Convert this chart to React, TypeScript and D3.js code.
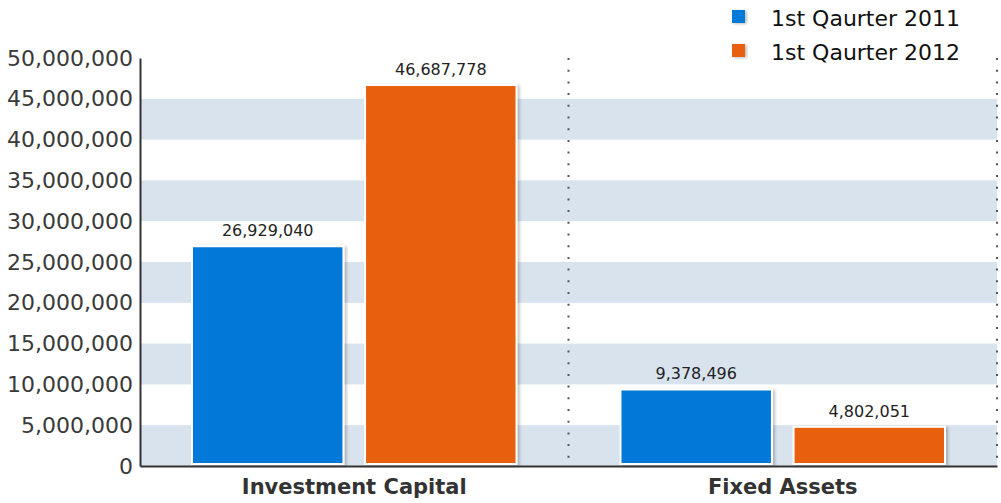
import * as d3 from "d3";
import { useEffect, useRef } from "react";

const categories = ["Investment Capital", "Fixed Assets"];
const seriesNames = ["1st Qaurter 2011", "1st Qaurter 2012"];
const q1_2011 = [26929040, 9378496];
const q1_2012 = [46687778, 4802051];
const yTicks = [0, 5000000, 10000000, 15000000, 20000000, 25000000, 30000000, 35000000, 40000000, 45000000, 50000000];
const colors = ["#0079d9", "#e85e0f"];

export default function App() {
  const ref = useRef<SVGSVGElement>(null);

  useEffect(() => {
    if (!ref.current) return;
    const width = 1001;
    const height = 503;
    const svg = d3.select(ref.current);
    svg.selectAll("*").remove();

    const margin = { top: 58, right: 4, bottom: 37, left: 140 };
    const innerWidth = width - margin.left - margin.right;
    const innerHeight = height - margin.top - margin.bottom;
    const font = "'DejaVu Sans', Arial, sans-serif";

    const defs = svg.append("defs");
    const filter = defs
      .append("filter")
      .attr("id", "shadow")
      .attr("x", "-10%")
      .attr("y", "-10%")
      .attr("width", "130%")
      .attr("height", "130%");
    filter
      .append("feDropShadow")
      .attr("dx", 2)
      .attr("dy", 1)
      .attr("stdDeviation", 1.5)
      .attr("flood-color", "#000")
      .attr("flood-opacity", 0.25);

    const g = svg
      .append("g")
      .attr("transform", `translate(${margin.left},${margin.top})`);

    const x0 = d3.scaleBand().domain(categories).range([0, innerWidth]).paddingInner(0).paddingOuter(0);
    const x1 = d3
      .scaleBand()
      .domain(seriesNames)
      .range([52, x0.bandwidth() - 52])
      .paddingInner(0.125);
    const y = d3.scaleLinear().domain([0, 50000000]).range([innerHeight, 0]);

    // Alternating bands
    for (let i = 0; i < yTicks.length - 1; i += 2) {
      g.append("rect")
        .attr("x", 0)
        .attr("width", innerWidth)
        .attr("y", y(yTicks[i + 1]))
        .attr("height", y(yTicks[i]) - y(yTicks[i + 1]))
        .attr("fill", "#d8e3ee");
    }

    // Dotted separators
    [x0.bandwidth(), innerWidth].forEach((xx) => {
      g.append("line")
        .attr("x1", xx)
        .attr("x2", xx)
        .attr("y1", 0)
        .attr("y2", innerHeight)
        .attr("stroke", "#555")
        .attr("stroke-width", 2)
        .attr("stroke-dasharray", "2,9.7");
    });

    const rows = categories.map((c, i) => ({
      category: c,
      values: [q1_2011[i], q1_2012[i]],
    }));

    const groups = g
      .selectAll(".grp")
      .data(rows)
      .enter()
      .append("g")
      .attr("transform", (d) => `translate(${x0(d.category)},0)`);

    const bars = groups
      .selectAll(".bar")
      .data((d) => d.values.map((v, i) => ({ name: seriesNames[i], value: v, i })))
      .enter();

    bars
      .append("rect")
      .attr("x", (d) => x1(d.name)!)
      .attr("y", (d) => y(d.value))
      .attr("width", x1.bandwidth())
      .attr("height", (d) => innerHeight - y(d.value) - 2)
      .attr("fill", (d) => colors[d.i])
      .attr("stroke", "#fff")
      .attr("stroke-width", 2)
      .attr("filter", "url(#shadow)");

    bars
      .append("text")
      .attr("x", (d) => x1(d.name)! + x1.bandwidth() / 2)
      .attr("y", (d) => y(d.value) - 10)
      .attr("text-anchor", "middle")
      .attr("font-family", font)
      .attr("font-size", 16)
      .attr("fill", "#222")
      .text((d) => d3.format(",")(d.value));

    // Y axis
    const yAxis = g
      .append("g")
      .call(d3.axisLeft(y).tickValues(yTicks).tickSize(0).tickPadding(7).tickFormat((d) => d3.format(",")(d as number)));
    yAxis.select(".domain").attr("stroke", "#333").attr("stroke-width", 2);
    yAxis
      .selectAll("text")
      .attr("font-family", font)
      .attr("font-size", 22)
      .attr("fill", "#3a3a3a");

    // X axis
    const xAxis = g
      .append("g")
      .attr("transform", `translate(0,${innerHeight})`)
      .call(d3.axisBottom(x0).tickSize(0).tickPadding(13));
    xAxis.select(".domain").attr("stroke", "#333").attr("stroke-width", 2);
    xAxis
      .selectAll("text")
      .attr("font-family", font)
      .attr("font-size", 21)
      .attr("font-weight", "bold")
      .attr("fill", "#333");

    // Legend
    const legend = svg.append("g").attr("transform", "translate(732,10)");
    seriesNames.forEach((name, i) => {
      const row = legend.append("g").attr("transform", `translate(0,${i * 34})`);
      row
        .append("rect")
        .attr("width", 13)
        .attr("height", 13)
        .attr("fill", colors[i])
        .attr("filter", "url(#shadow)");
      row
        .append("text")
        .attr("x", 39)
        .attr("y", 16)
        .attr("font-family", font)
        .attr("font-size", 22)
        .attr("fill", "#111")
        .text(name);
    });
  }, []);

  return (
    <svg
      ref={ref}
      width={1001}
      height={503}
      style={{ position: "absolute", left: 0, top: 0, background: "#fff" }}
    />
  );
}
